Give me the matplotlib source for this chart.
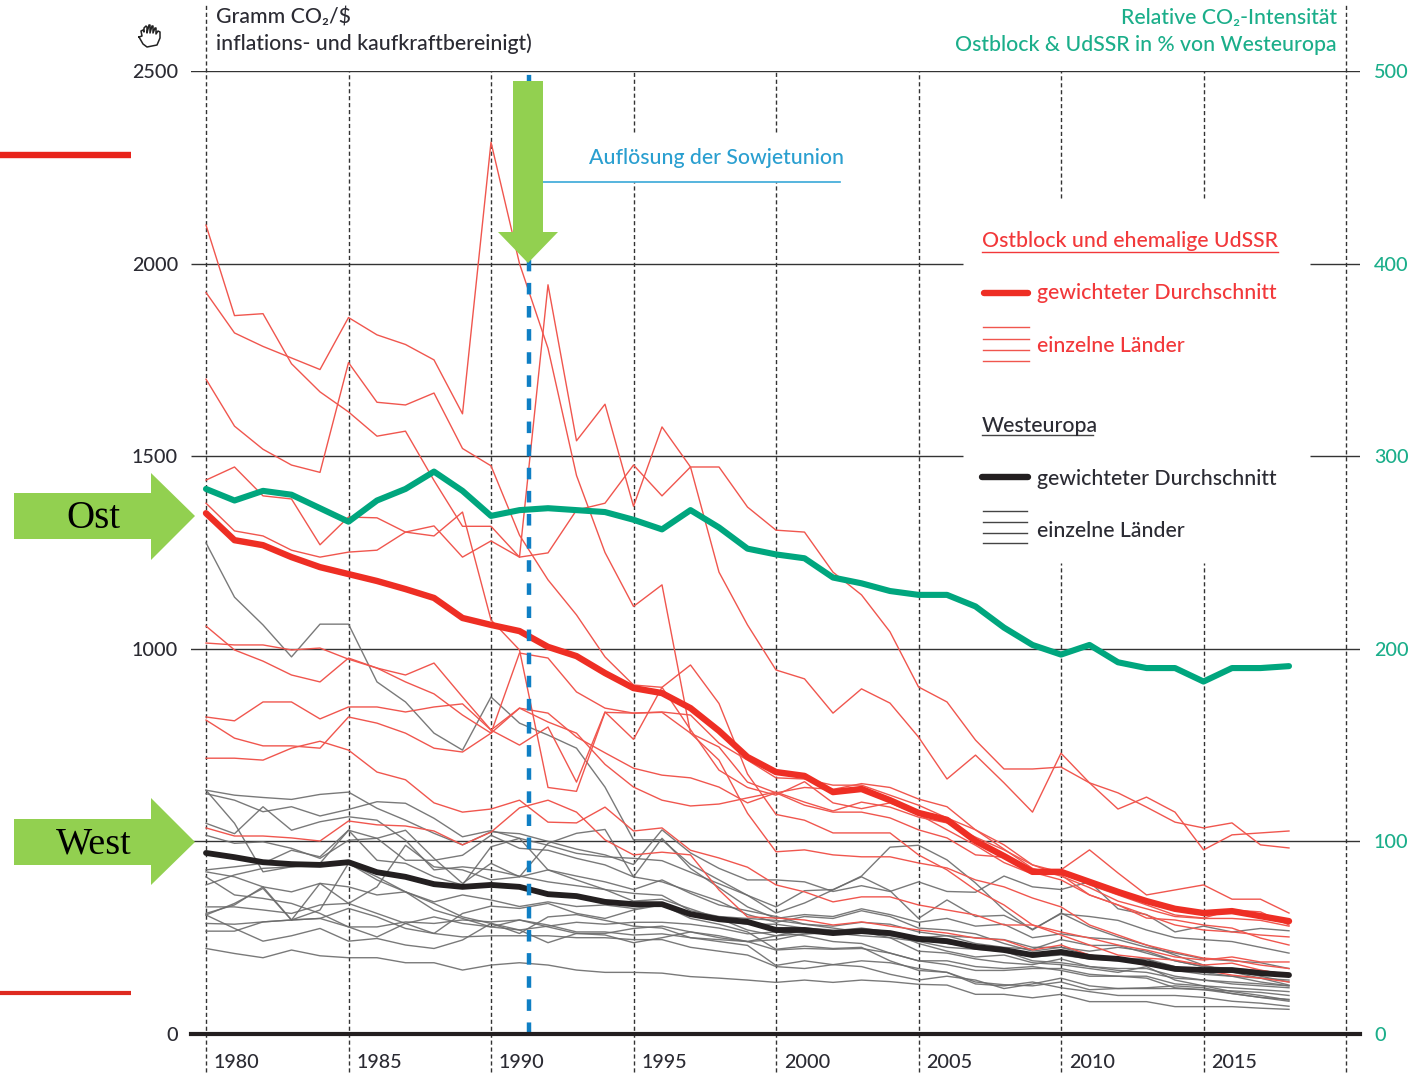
import matplotlib
matplotlib.use("Agg")
import matplotlib.pyplot as plt
from matplotlib.patches import Polygon

YEARS = list(range(1980, 2019))

# weighted averages
OST_MEAN = [1352, 1282, 1269, 1238, 1212, 1194, 1176, 1155, 1132, 1080,
            1062, 1046, 1005, 981, 937, 898, 885, 846, 787, 719,
            680, 670, 628, 636, 607, 574, 556, 501, 462, 421,
            421, 395, 369, 345, 325, 314, 319, 306, 293]
WEST_MEAN = [470, 459, 446, 441, 439, 446, 420, 408, 389, 382,
             387, 382, 363, 358, 343, 337, 337, 311, 298, 291,
             270, 270, 262, 267, 262, 247, 241, 226, 218, 205,
             213, 200, 195, 184, 169, 166, 166, 158, 153]
RELATIVE = [283, 277, 282, 280, 273, 266, 277, 283, 292, 282,
            269, 272, 273, 272, 271, 267, 262, 272, 263, 252,
            249, 247, 237, 234, 230, 228, 228, 222, 211, 202,
            197, 202, 193, 190, 190, 183, 190, 190, 191]

# single countries, Ostblock
OST = [
    [2100, 1865, 1870, 1740, 1667, 1615, 1552, 1565, 1437, 1318,
     1318, 1238, 1945, 1540, 1635, 1370, 1576, 1472, 1472, 1368,
     1308, 1303, 1199, 1140, 1044, 901, 862, 763, 688, 688,
     693, 652, 626, 589, 550, 535, 548, 491, 483],
    [1925, 1820, 1785, 1755, 1725, 1860, 1815, 1790, 1750, 1610,
     2315, 2000, 1780, 1450, 1250, 1110, 1166, 781, 711, 573,
     473, 478, 465, 460, 460, 444, 431, 400, 382, 353,
     330, 283, 257, 231, 213, 197, 192, 179, 170],
    [1700, 1578, 1518, 1477, 1458, 1743, 1640, 1633, 1664, 1520,
     1475, 1295, 1179, 1088, 979, 906, 900, 790, 685, 640,
     620, 655, 600, 585, 600, 570, 530, 490, 445, 415,
     426, 478, 418, 361, 374, 387, 350, 350, 314],
    [1378, 1306, 1293, 1256, 1238, 1251, 1256, 1303, 1319, 1238,
     1280, 1238, 1249, 1360, 1378, 1477, 1397, 1472, 1199, 1062,
     945, 922, 833, 896, 859, 771, 662, 724, 652, 576,
     729, 652, 584, 615, 576, 478, 517, 522, 527],
    [1438, 1472, 1397, 1389, 1270, 1342, 1340, 1303, 1293, 1355,
     1075, 997, 640, 630, 835, 833, 835, 781, 745, 654,
     626, 640, 635, 650, 640, 610, 590, 530, 480, 430,
     410, 380, 345, 325, 305, 300, 300, 295, 280],
    [1059, 997, 968, 932, 914, 976, 950, 932, 963, 875,
     789, 750, 797, 654, 836, 765, 900, 958, 858, 675,
     570, 555, 522, 522, 522, 465, 426, 374, 335, 283,
     257, 231, 205, 197, 192, 179, 184, 166, 153],
    [1015, 1010, 1010, 997, 1002, 973, 950, 914, 883, 828,
     781, 989, 976, 888, 846, 833, 836, 828, 755, 711,
     665, 662, 646, 646, 620, 594, 561, 530, 491, 439,
     420, 387, 361, 335, 309, 301, 322, 317, 283],
    [823, 813, 862, 862, 818, 849, 849, 836, 849, 857,
     789, 846, 833, 771, 730, 690, 672, 665, 641, 600,
     626, 594, 576, 576, 561, 530, 509, 465, 459, 420,
     400, 361, 335, 301, 296, 283, 275, 249, 231],
    [815, 768, 748, 748, 742, 823, 807, 781, 742, 732,
     781, 846, 810, 781, 700, 641, 607, 592, 597, 613,
     628, 602, 579, 602, 589, 563, 548, 511, 478, 439,
     413, 361, 335, 309, 283, 270, 265, 257, 252],
    [716, 716, 711, 742, 760, 737, 680, 660, 600, 576,
     584, 607, 550, 548, 589, 527, 535, 477, 457, 433,
     387, 369, 343, 356, 356, 335, 322, 309, 283, 283,
     265, 249, 231, 218, 200, 192, 200, 187, 187],
    [535, 514, 514, 509, 501, 553, 543, 540, 527, 491,
     524, 587, 607, 576, 504, 465, 472, 465, 374, 304,
     301, 296, 283, 291, 280, 270, 262, 249, 244, 218,
     231, 205, 192, 179, 166, 166, 153, 145, 135],
]

# single countries, Westeuropa
WEST = [
    [1275, 1134, 1062, 979, 1064, 1064, 914, 862, 781, 737,
     875, 807, 776, 742, 641, 504, 504, 440, 400, 360,
     314, 340, 374, 410, 485, 490, 452, 392, 322, 270,
     314, 278, 252, 231, 205, 179, 161, 145, 127],
    [633, 620, 614, 609, 622, 628, 586, 555, 521, 491,
     525, 520, 500, 480, 465, 440, 530, 470, 430, 400,
     400, 395, 370, 385, 370, 395, 370, 368, 410, 382,
     375, 395, 325, 310, 265, 280, 265, 274, 268],
    [624, 607, 577, 590, 566, 583, 603, 599, 560, 512,
     528, 508, 490, 469, 460, 456, 450, 420, 390, 360,
     330, 372, 375, 408, 372, 300, 348, 305, 308, 272,
     312, 305, 295, 270, 250, 245, 240, 225, 210],
    [633, 547, 421, 434, 443, 529, 508, 529, 456, 391,
     443, 408, 495, 521, 531, 408, 508, 430, 380, 330,
     300, 310, 305, 325, 310, 290, 300, 280, 285, 250,
     260, 250, 245, 225, 210, 195, 190, 185, 170],
    [547, 520, 590, 529, 551, 564, 555, 503, 426, 434,
     426, 410, 395, 385, 375, 365, 360, 320, 305, 300,
     295, 285, 280, 290, 285, 265, 255, 250, 245, 225,
     225, 215, 225, 215, 190, 175, 165, 150, 135],
    [516, 495, 499, 482, 456, 503, 508, 451, 451, 464,
     516, 482, 477, 456, 439, 408, 395, 370, 345, 310,
     290, 305, 300, 320, 305, 275, 270, 260, 235, 215,
     225, 205, 195, 195, 175, 160, 150, 135, 125],
    [426, 434, 443, 477, 460, 529, 451, 443, 408, 387,
     486, 508, 426, 410, 395, 375, 400, 365, 335, 320,
     305, 285, 275, 265, 265, 250, 255, 235, 225, 220,
     245, 230, 230, 210, 190, 175, 170, 165, 155],
    [387, 413, 430, 434, 438, 443, 408, 369, 343, 361,
     348, 331, 343, 331, 335, 326, 335, 315, 295, 285,
     285, 275, 270, 265, 250, 240, 225, 220, 215, 200,
     205, 195, 190, 195, 165, 155, 150, 145, 140],
    [421, 408, 382, 369, 391, 382, 361, 369, 322, 300,
     278, 296, 278, 261, 261, 274, 280, 265, 250, 240,
     218, 222, 220, 222, 210, 190, 190, 175, 170, 175,
     165, 150, 150, 150, 130, 125, 120, 115, 110],
    [313, 335, 382, 296, 391, 339, 382, 490, 434, 426,
     400, 408, 426, 400, 375, 345, 350, 325, 300, 270,
     255, 260, 265, 265, 255, 245, 235, 225, 215, 190,
     185, 175, 170, 170, 150, 140, 130, 125, 120],
    [330, 330, 322, 313, 335, 339, 313, 287, 261, 313,
     332, 326, 339, 313, 300, 322, 335, 300, 285, 265,
     220, 228, 222, 225, 190, 165, 160, 135, 128, 125,
     135, 115, 118, 118, 118, 115, 112, 108, 100],
    [287, 285, 291, 296, 300, 278, 278, 291, 287, 296,
     291, 296, 283, 265, 265, 257, 260, 250, 245, 240,
     245, 260, 262, 255, 250, 215, 210, 195, 185, 180,
     195, 175, 165, 160, 145, 140, 135, 130, 125],
    [309, 274, 241, 255, 274, 241, 248, 231, 222, 244,
     287, 270, 237, 261, 257, 237, 250, 265, 255, 240,
     255, 270, 268, 275, 265, 235, 215, 200, 205, 185,
     180, 170, 160, 175, 140, 125, 110, 100, 88],
    [267, 267, 291, 296, 300, 326, 304, 274, 261, 252,
     255, 255, 255, 250, 250, 245, 245, 225, 215, 205,
     175, 170, 180, 175, 155, 140, 150, 140, 118, 130,
     145, 125, 118, 120, 125, 120, 105, 95, 85],
    [222, 209, 198, 218, 203, 198, 198, 185, 185, 166,
     179, 185, 179, 166, 160, 160, 158, 149, 145, 140,
     134, 140, 134, 140, 136, 129, 127, 103, 103, 94,
     103, 84, 84, 84, 71, 71, 71, 67, 64],
    [408, 361, 352, 339, 313, 278, 252, 287, 304, 287,
     278, 270, 280, 290, 285, 290, 290, 285, 275, 260,
     265, 255, 240, 235, 210, 190, 180, 165, 165, 170,
     170, 155, 150, 145, 120, 115, 105, 95, 90],
    [309, 339, 378, 296, 322, 443, 400, 369, 339, 304,
     287, 261, 304, 310, 295, 280, 275, 250, 240, 230,
     178, 190, 180, 190, 185, 170, 160, 130, 125, 135,
     120, 110, 100, 100, 100, 95, 85, 80, 72],
]

LEFT_TICKS = [0, 1000, 1500, 2000, 2500]
RIGHT_TICKS = [0, 100, 200, 300, 400, 500]
DECADE_TICKS = [1980, 1985, 1990, 1995, 2000, 2005, 2010, 2015]
SOVIET_END = 1991.35

RED = "#EE2E24"
RED_THIN = "#F0564E"
GRAY_THIN = "#6B6B6B"
BLACK = "#231F20"
TEAL = "#00A67E"
TEAL_TEXT = "#1BAE8A"
RED_TEXT = "#F2383A"
BLUE = "#0F7FC4"
BLUE_TEXT = "#2A9FD0"
ARROW = "#92D050"
INK = "#2B2B33"

plt.rcParams["font.family"] = ["Lato", "DejaVu Sans"]
plt.rcParams["font.weight"] = "medium"
FS = 15.3       # running text
FS_NUM = 14.2   # tick numbers

W, H = 1423, 1080
fig = plt.figure(figsize=(W / 100, H / 100), dpi=100)
ax = fig.add_axes([191 / W, 1 - 1034 / H, (1360 - 191) / W, (1034 - 71) / H])
ax.set_xlim(1980 - 15 / 28.5, 1980 + (1360 - 206) / 28.5)
ax.set_ylim(0, 2500)
for s in ax.spines.values():
    s.set_visible(False)

# overlay in image pixels, for the hand-placed callouts and the legend
over = fig.add_axes([0, 0, 1, 1], zorder=10)
over.set_xlim(0, W)
over.set_ylim(H, 0)
over.axis("off")


def year_at(px):
    return 1980 + (px - 206) / 28.5


def frac(py):
    return (1034 - py) / 963


# horizontal rules; 1500 and 2000 are broken for the legend
for v in [500, 1000, 2500]:
    ax.axhline(v, color="#333333", lw=1.0, zorder=1)
for v in [1500, 2000]:
    ax.hlines(v, ax.get_xlim()[0], year_at(963), color="#333333", lw=1.0, zorder=1)
    ax.hlines(v, year_at(1310), ax.get_xlim()[1], color="#333333", lw=1.0, zorder=1)
ax.axhline(0, color=BLACK, lw=3.0, zorder=6, clip_on=False)

# dashed year lines, running past the plot at the bottom, gapped behind the texts
tr = ax.get_xaxis_transform()
dash = dict(color="#333333", lw=1.0, dashes=(3, 2), clip_on=False, zorder=1, transform=tr)
bottom = frac(1072)
for yr in DECADE_TICKS + [2020]:
    if yr in (2010, 2015):
        ax.plot([yr, yr], [bottom, frac(563)], **dash)
        ax.plot([yr, yr], [frac(198), 1], **dash)
    elif yr in (1995, 2000):
        ax.plot([yr, yr], [bottom, frac(182)], **dash)
        ax.plot([yr, yr], [frac(132), 1], **dash)
    elif yr in (1980, 2020):
        ax.plot([yr, yr], [bottom, frac(5)], **dash)
    else:
        ax.plot([yr, yr], [bottom, 1], **dash)

for series in WEST:
    ax.plot(YEARS, series, color=GRAY_THIN, lw=1.0, alpha=0.9, zorder=2)
for series in OST:
    ax.plot(YEARS, series, color=RED_THIN, lw=1.0, zorder=3)
ax.plot(YEARS, OST_MEAN, color=RED, lw=4.6, zorder=4, solid_capstyle="round")
ax.plot(YEARS, WEST_MEAN, color=BLACK, lw=4.2, zorder=4, solid_capstyle="round")
ax.plot([SOVIET_END, SOVIET_END], [0, 2500], color=BLUE, lw=3.2, dashes=(2.6, 2.6), zorder=5)

ax.set_xticks([])
ax.set_yticks(LEFT_TICKS, [str(v) for v in LEFT_TICKS])
ax.tick_params(axis="y", length=0, pad=9.4, labelsize=FS_NUM, labelcolor=INK)
for yr in DECADE_TICKS:
    ax.text(yr + 8 / 28.5, frac(1063), str(yr), transform=tr, fontsize=FS_NUM, color=INK,
            ha="left", va="center")

# relative intensity, own scale on the right
ax2 = ax.twinx()
ax2.set_ylim(0, 500)
for s in ax2.spines.values():
    s.set_visible(False)
ax2.plot(YEARS, RELATIVE, color=TEAL, lw=4.4, zorder=7, solid_capstyle="round", solid_joinstyle="round")
ax2.set_yticks(RIGHT_TICKS)
ax2.tick_params(axis="y", length=0, pad=10, labelsize=FS_NUM, labelcolor=TEAL_TEXT)

# header texts
over.text(216, 18, "Gramm CO₂/$", fontsize=FS, color=INK, va="center")
over.text(216, 44, "inflations- und kaufkraftbereinigt)", fontsize=FS, color=INK, va="center")
over.text(1337, 18, "Relative CO₂-Intensität", fontsize=FS, color=TEAL_TEXT, va="center", ha="right")
over.text(1337, 45, "Ostblock & UdSSR in % von Westeuropa", fontsize=FS, color=TEAL_TEXT,
          va="center", ha="right")

# legend
over.text(982, 241, "Ostblock und ehemalige UdSSR", fontsize=FS, color=RED_TEXT, va="center")
over.plot([982, 1278], [252, 252], color=RED_TEXT, lw=1.0)
over.plot([984, 1028], [293, 293], color=RED, lw=4.6, solid_capstyle="round")
over.text(1037, 293, "gewichteter Durchschnitt", fontsize=FS, color=RED_TEXT, va="center")
for y in [327, 339, 350, 361]:
    over.plot([983, 1029], [y, y], color=RED_THIN, lw=1.0)
over.text(1037, 346, "einzelne Länder", fontsize=FS, color=RED_TEXT, va="center")

over.text(982, 426, "Westeuropa", fontsize=FS, color=INK, va="center")
over.plot([982, 1093], [435, 435], color="#444444", lw=1.0)
over.plot([982, 1028], [477, 477], color=BLACK, lw=4.6, solid_capstyle="round")
over.text(1037, 479, "gewichteter Durchschnitt", fontsize=FS, color=INK, va="center")
for y in [511, 522, 533, 543]:
    over.plot([983, 1027], [y, y], color="#444444", lw=1.0)
over.text(1037, 531, "einzelne Länder", fontsize=FS, color=INK, va="center")

# callout
over.text(589, 158, "Auflösung der Sowjetunion", fontsize=FS, color=BLUE_TEXT, va="center")
over.plot([543, 840], [182, 182], color="#38A8D8", lw=1.2)
over.add_patch(Polygon([(513, 81), (543, 81), (543, 232), (558, 232), (528, 263), (498, 232), (513, 232)],
                       closed=True, color=ARROW, lw=0, zorder=8))

# slide annotations
for (top, mid, low, tip, word, tx, size) in [(473, 516, 560, 195, "Ost", 93, 28),
                                             (798, 842, 885, 195, "West", 94, 27.5)]:
    over.add_patch(Polygon([(14, mid - 23), (151, mid - 23), (151, top), (tip, mid), (151, low),
                            (151, mid + 23), (14, mid + 23)], closed=True, color=ARROW, lw=0, zorder=8))
    over.text(tx, mid + 2, word, fontsize=size, family="Liberation Serif", color="black", ha="center",
              va="center", zorder=9)
over.plot([0, 131], [154.5, 154.5], color="#E8231B", lw=4.6, solid_capstyle="butt")
over.plot([0, 131], [992.5, 992.5], color="#DE2A20", lw=3.0, solid_capstyle="butt")

# the little hand cursor
hand_x = [139, 142, 141, 141, 143, 144, 144, 146, 147, 147, 149, 150, 150, 152, 153, 153, 155, 156, 156, 158,
          160, 160, 157, 147, 143, 139]
hand_y = [37, 36, 31, 31, 30, 32, 28, 26, 27, 33, 25, 25, 33, 26, 26, 33, 28, 28, 34, 31,
          32, 38, 45, 47, 44, 37]
over.plot(hand_x, hand_y, color="#222222", lw=1.1)

fig.savefig("out.png", dpi=100)
